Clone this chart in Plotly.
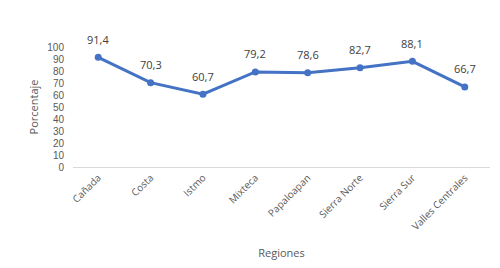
import plotly.graph_objects as go

regiones = ["Cañada", "Costa", "Istmo", "Mixteca", "Papaloapan", "Sierra Norte", "Sierra Sur", "Valles Centrales"]
porcentaje = [91.4, 70.3, 60.7, 79.2, 78.6, 82.7, 88.1, 66.7]
etiquetas = [f"{v:.1f}".replace(".", ",") for v in porcentaje]
y_ticks = list(range(0, 101, 10))

fig = go.Figure(go.Scatter(
    x=regiones, y=porcentaje, mode="lines+markers",
    line=dict(color="#4472C4", width=3),
    marker=dict(color="#4472C4", size=7),
    cliponaxis=False,
))
for r, v, t in zip(regiones, porcentaje, etiquetas):
    fig.add_annotation(x=r, y=v, text=t, showarrow=False, yshift=18,
                       font=dict(size=11, color="#404040",
                                 family="Open Sans, Liberation Sans, sans-serif"))
fig.update_layout(
    width=492, height=260,
    margin=dict(l=65, r=10, t=39, b=101, autoexpand=False),
    paper_bgcolor="white", plot_bgcolor="white",
    font=dict(family="Open Sans, Liberation Sans, sans-serif", size=10, color="#595959"),
    showlegend=False,
)
fig.update_xaxes(
    tickangle=-45, showgrid=False, showline=True, linecolor="#D9D9D9", linewidth=1,
    title=dict(text="Regiones", font=dict(size=11, color="#595959"), standoff=17),
    tickfont=dict(size=10, color="#595959"), automargin=False,
)
fig.update_yaxes(
    range=[0, 100], tickvals=y_ticks, showgrid=False, zeroline=False,
    title=dict(text="Porcentaje", font=dict(size=11, color="#595959"), standoff=6),
    tickfont=dict(size=10, color="#595959", family="Liberation Sans, Arial, sans-serif"),
    ticklabelstandoff=8, automargin=False,
)
fig.write_html("out.html")
